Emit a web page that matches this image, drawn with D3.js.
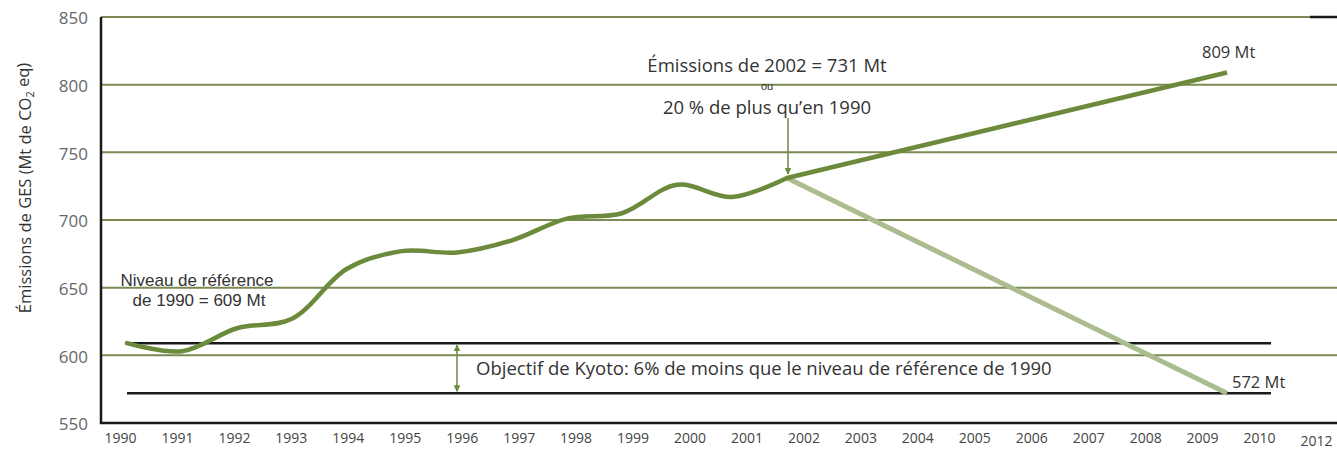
<!DOCTYPE html>
<html>
<head>
<meta charset="utf-8">
<script src="https://cdn.jsdelivr.net/npm/d3@7"></script>
<style>
  body { margin: 0; background: #fff; }
  svg { display: block; }
</style>
</head>
<body>
<script>
// emissions history (Mt CO2 eq)
const years = [1990, 1991, 1992, 1993, 1994, 1995, 1996, 1997, 1998, 1999, 2000, 2001, 2002];
const emissions = [609, 603, 620, 627, 664, 677, 676, 685, 701, 705, 726, 717, 731];

// projections from 2002 to 2010
const projYears = [2002, 2010];
const businessAsUsual = [731, 809];
const kyotoPath = [731, 572];

const referenceLevel = 609;
const kyotoTarget = 572;
const targetSpan = [1990, 2010.8];
const kyotoArrowYear = 1996;

const yTicks = [550, 600, 650, 700, 750, 800, 850];
const gridValues = [600, 650, 700, 750, 800, 850];
const tickLabels = ["1990", "1991", "1992", "1993", "1994", "1995", "1996", "1997", "1998", "1999",
  "2000", "2001", "2002", "2003", "2004", "2005", "2006", "2007", "2008", "2009", "2010", "2012"];

const width = 1337;
const height = 457;
const fontFamily = "'Open Sans', sans-serif";
const compactFont = "'Liberation Sans', sans-serif";
const olive = "#6b8a3b";
const gridColor = "#7b8a52";
const lightGreen = "#abbd8e";

const y = d3.scaleLinear().domain([550, 850]).range([423, 17]);
const x = d3.scaleLinear().domain([1990, 2010]).range([127, 1227]);
const xLabels = d3.scalePoint().domain(tickLabels).range([120, 1316]);
const plotLeft = 101;

const svg = d3
  .create("svg")
  .attr("width", width)
  .attr("height", height)
  .attr("viewBox", [0, 0, width, height])
  .attr("font-family", fontFamily);

const defs = svg.append("defs");
defs
  .append("marker")
  .attr("id", "arrow")
  .attr("viewBox", "0 0 10 10")
  .attr("refX", 9)
  .attr("refY", 5)
  .attr("markerWidth", 4.5)
  .attr("markerHeight", 4.5)
  .attr("orient", "auto-start-reverse")
  .append("path")
  .attr("d", "M0,0L10,5L0,10z")
  .attr("fill", olive);

// horizontal grid
svg
  .append("g")
  .selectAll()
  .data(gridValues)
  .join("line")
  .attr("x1", plotLeft)
  .attr("x2", width)
  .attr("y1", (d) => y(d))
  .attr("y2", (d) => y(d))
  .attr("stroke", gridColor)
  .attr("stroke-width", 2);

// frame: left and bottom axis lines, small stub at top right
svg
  .append("path")
  .attr("d", `M${plotLeft},${y(850)}V${y(550)}H${width}`)
  .attr("fill", "none")
  .attr("stroke", "#1a1a1a")
  .attr("stroke-width", 2.5);
svg
  .append("line")
  .attr("x1", width - 27)
  .attr("x2", width)
  .attr("y1", y(850))
  .attr("y2", y(850))
  .attr("stroke", "#1a1a1a")
  .attr("stroke-width", 2.5);

// y axis
svg
  .append("g")
  .attr("transform", `translate(${plotLeft},0)`)
  .call(d3.axisLeft(y).tickValues(yTicks).tickSize(0).tickPadding(13))
  .call((g) => g.select(".domain").remove())
  .call((g) =>
    g
      .selectAll("text")
      .attr("font-family", fontFamily)
      .attr("font-size", 17)
      .attr("fill", "#666")
      .attr("dy", "0.4em")
  );

// x axis labels
svg
  .append("g")
  .attr("transform", `translate(0,${y(550)})`)
  .call(d3.axisBottom(xLabels).tickSize(0).tickPadding(10))
  .call((g) => g.select(".domain").remove())
  .call((g) =>
    g
      .selectAll("text")
      .attr("font-family", fontFamily)
      .attr("font-size", 14)
      .attr("fill", "#444")
      .attr("dy", (d) => (d === "2012" ? "0.95em" : "0.71em"))
  );

// y axis title
svg
  .append("text")
  .attr("transform", `translate(31,${(y(850) + y(550)) / 2 - 32}) rotate(-90)`)
  .attr("text-anchor", "middle")
  .attr("font-size", 16.5)
  .attr("fill", "#333")
  .text("Émissions de GES (Mt de CO")
  .call((t) =>
    t.append("tspan").attr("font-size", 11).attr("dy", "0.3em").text("2")
  )
  .call((t) => t.append("tspan").attr("dy", "-0.3em").text(" eq)"));

// reference and Kyoto target levels
svg
  .append("g")
  .selectAll()
  .data([referenceLevel, kyotoTarget])
  .join("line")
  .attr("x1", x(targetSpan[0]))
  .attr("x2", x(targetSpan[1]))
  .attr("y1", (d) => y(d))
  .attr("y2", (d) => y(d))
  .attr("stroke", "#1a1a1a")
  .attr("stroke-width", 2.5);

// projections
const proj = (values) => projYears.map((yr, i) => [yr, values[i]]);
const straight = d3.line().x((d) => x(d[0])).y((d) => y(d[1]));

svg
  .append("path")
  .attr("d", straight(proj(kyotoPath)))
  .attr("fill", "none")
  .attr("stroke", lightGreen)
  .attr("stroke-width", 5);

svg
  .append("path")
  .attr("d", straight(proj(businessAsUsual)))
  .attr("fill", "none")
  .attr("stroke", olive)
  .attr("stroke-width", 4.5);

// historic emissions
const line = d3
  .line()
  .curve(d3.curveCatmullRom.alpha(0.5))
  .x((d, i) => x(years[i]))
  .y((d) => y(d));

svg
  .append("path")
  .attr("d", line(emissions))
  .attr("fill", "none")
  .attr("stroke", olive)
  .attr("stroke-width", 4.5)
  .attr("stroke-linecap", "round");

// Kyoto gap arrow
svg
  .append("line")
  .attr("x1", x(kyotoArrowYear))
  .attr("x2", x(kyotoArrowYear))
  .attr("y1", y(referenceLevel) + 2)
  .attr("y2", y(kyotoTarget) - 2)
  .attr("stroke", olive)
  .attr("stroke-width", 1.5)
  .attr("marker-start", "url(#arrow)")
  .attr("marker-end", "url(#arrow)");

// 2002 annotation arrow
svg
  .append("line")
  .attr("x1", x(2002) + 1)
  .attr("x2", x(2002) + 1)
  .attr("y1", 118)
  .attr("y2", y(731) - 4)
  .attr("stroke", olive)
  .attr("stroke-width", 1.5)
  .attr("marker-end", "url(#arrow)");

// annotations
const annot = svg
  .append("g")
  .attr("font-size", 18.5)
  .attr("fill", "#333");

annot
  .append("text")
  .attr("x", x(2002) - 20)
  .attr("y", 72)
  .attr("text-anchor", "middle")
  .text("Émissions de 2002 = 731 Mt");
annot
  .append("text")
  .attr("x", x(2002) - 20)
  .attr("y", 90)
  .attr("text-anchor", "middle")
  .attr("font-family", compactFont)
  .attr("font-size", 11)
  .text("ou");
annot
  .append("text")
  .attr("x", x(2002) - 20)
  .attr("y", 114)
  .attr("text-anchor", "middle")
  .text("20 % de plus qu’en 1990");

annot
  .append("text")
  .attr("x", x(2010) - 25)
  .attr("y", y(businessAsUsual[1]) - 14)
  .attr("font-size", 16.5)
  .text(`${businessAsUsual[1]} Mt`);
annot
  .append("text")
  .attr("x", x(2010) + 5)
  .attr("y", y(kyotoPath[1]) - 5)
  .attr("font-size", 16.5)
  .text(`${kyotoPath[1]} Mt`);

annot
  .append("text")
  .attr("x", 197)
  .attr("y", 286)
  .attr("text-anchor", "middle")
  .attr("font-family", compactFont)
  .attr("font-size", 17)
  .text("Niveau de référence");
annot
  .append("text")
  .attr("x", 199)
  .attr("y", 306)
  .attr("text-anchor", "middle")
  .attr("font-family", compactFont)
  .attr("font-size", 17)
  .text(`de 1990 = ${referenceLevel} Mt`);

annot
  .append("text")
  .attr("x", x(kyotoArrowYear) + 19)
  .attr("y", y(referenceLevel) + 32)
  .text("Objectif de Kyoto: 6% de moins que le niveau de référence de 1990");

document.body.appendChild(svg.node());
</script>
</body>
</html>
